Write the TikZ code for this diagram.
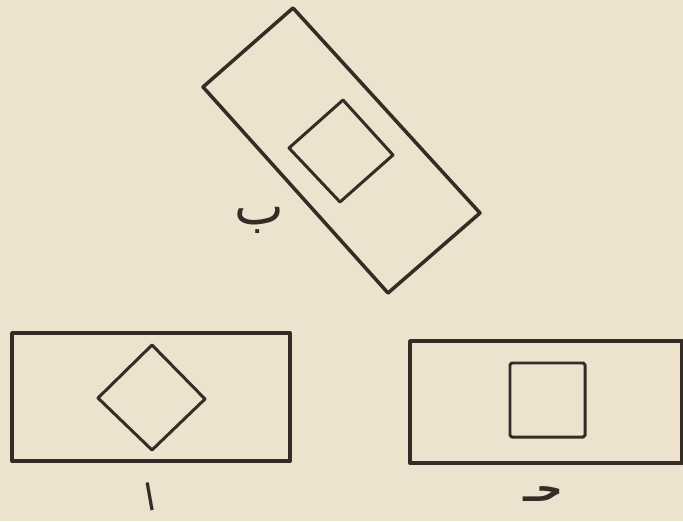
\documentclass[tikz,border=0pt]{standalone}
\usepackage{fontspec}
\newfontfamily\arabicfont[Script=Arabic]{DejaVu Sans}
\TeXXeTstate=1
\definecolor{paper}{RGB}{237,226,205}
\definecolor{ink}{RGB}{52,44,38}
\tikzset{
  card/.style={draw=ink, line width=2.2pt, line join=round},
  window/.style={draw=ink, line width=1.7pt, line join=round},
  letter/.style={text=ink, inner sep=0pt, font=\arabicfont\fontsize{22}{22}\selectfont}
}
\begin{document}
\begin{tikzpicture}[x=0.02cm,y=-0.02cm]
  \fill[paper] (0,0) rectangle (683,521);
  \useasboundingbox (0,0) rectangle (683,521);
  % top card, turned
  \draw[card, line width=2pt] (293,8) -- (480,213) -- (388,293) -- (203,87) -- cycle;
  \draw[window] (343,100) -- (393,155) -- (340,202) -- (289,148) -- cycle;
  \node[letter, font=\arabicfont\fontsize{30}{30}\selectfont] (beh) at (259,220) {\beginR ب\endR};
  % bottom left card
  \draw[card] (12,333) rectangle (290,461);
  \draw[window] (152,345) -- (205,399) -- (152,450) -- (98,398) -- cycle;
  \node[letter, font=\arabicfont\fontsize{21}{21}\selectfont, rotate=10] (alif) at (150,497) {\beginR ا\endR};
  % bottom right card
  \draw[card] (410,341) rectangle (682,463);
  \draw[window, rounded corners=1pt] (510,363) rectangle (585,437);
  \node[letter, font=\arabicfont\bfseries\fontsize{21}{21}\selectfont] (hah) at (543,494) {\beginR حـ\endR};
\end{tikzpicture}
\end{document}
